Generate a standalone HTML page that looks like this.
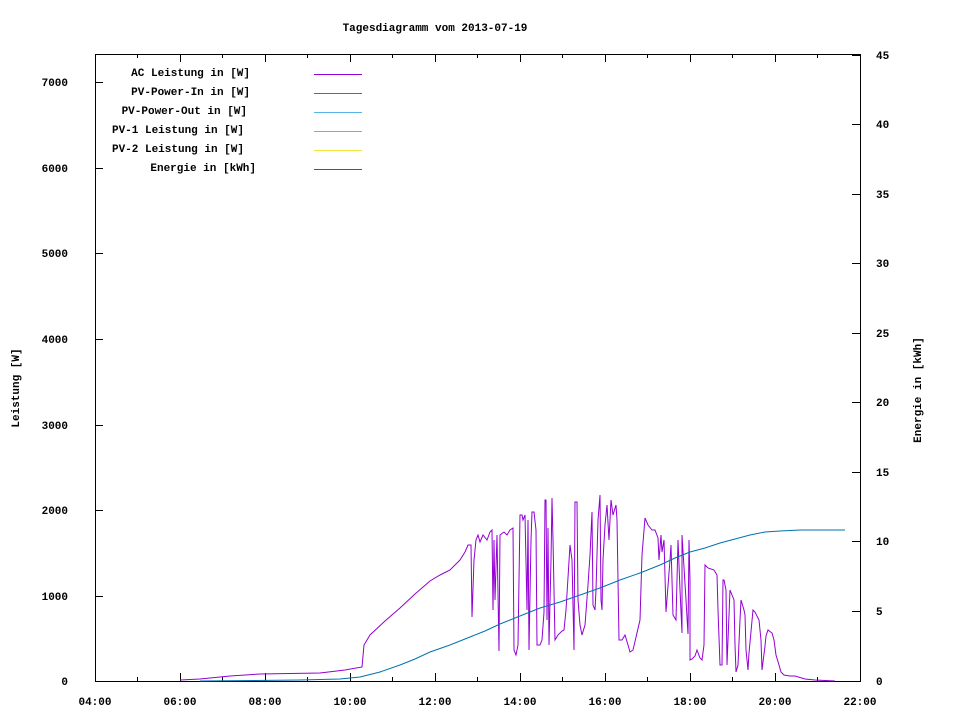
<!DOCTYPE html>
<html><head><meta charset="utf-8"><style>
html,body{margin:0;padding:0;background:#fff}
svg text{font-family:"Liberation Mono",monospace;font-size:11px;font-weight:bold;fill:#000}
</style></head><body>
<svg width="960" height="720" viewBox="0 0 960 720" xmlns="http://www.w3.org/2000/svg">
<rect width="960" height="720" fill="#fff"/>
<text x="435" y="31" text-anchor="middle">Tagesdiagramm vom 2013-07-19</text>
<rect x="95.5" y="54.5" width="765" height="627" fill="none" stroke="#000" stroke-width="1"/>
<g stroke="#000" stroke-width="1">
<!-- left ticks -->
<path d="M95 596.5h8M95 510.5h8M95 425.5h8M95 339.5h8M95 253.5h8M95 168.5h8M95 82.5h8"/>
<!-- right ticks -->
<path d="M860 611.5h-8M860 541.5h-8M860 472.5h-8M860 402.5h-8M860 333.5h-8M860 263.5h-8M860 194.5h-8M860 124.5h-8M860 55.5h-8"/>
<!-- x major ticks -->
<path d="M180.5 681v-8M265.5 681v-8M350.5 681v-8M435.5 681v-8M520.5 681v-8M605.5 681v-8M690.5 681v-8M775.5 681v-8"/>
<path d="M180.5 54v8M265.5 54v8M350.5 54v8M435.5 54v8M520.5 54v8M605.5 54v8M690.5 54v8M775.5 54v8"/>
<!-- minor -->
<path d="M137.5 681v-4M222.5 681v-4M307.5 681v-4M392.5 681v-4M477.5 681v-4M562.5 681v-4M647.5 681v-4M732.5 681v-4M817.5 681v-4"/>
<path d="M137.5 54v4M222.5 54v4M307.5 54v4M392.5 54v4M477.5 54v4M562.5 54v4M647.5 54v4M732.5 54v4M817.5 54v4"/>
</g>
<g text-anchor="end">
<text x="68" y="685">0</text><text x="68" y="600">1000</text><text x="68" y="514">2000</text>
<text x="68" y="429">3000</text><text x="68" y="343">4000</text><text x="68" y="257">5000</text>
<text x="68" y="172">6000</text><text x="68" y="86">7000</text>
</g>
<g text-anchor="start">
<text x="876" y="685">0</text><text x="876" y="615">5</text><text x="876" y="545">10</text>
<text x="876" y="476">15</text><text x="876" y="406">20</text><text x="876" y="337">25</text>
<text x="876" y="267">30</text><text x="876" y="198">35</text><text x="876" y="128">40</text><text x="876" y="59">45</text>
</g>
<g text-anchor="middle">
<text x="95" y="705">04:00</text><text x="180" y="705">06:00</text><text x="265" y="705">08:00</text>
<text x="350" y="705">10:00</text><text x="435" y="705">12:00</text><text x="520" y="705">14:00</text>
<text x="605" y="705">16:00</text><text x="690" y="705">18:00</text><text x="775" y="705">20:00</text><text x="860" y="705">22:00</text>
</g>
<text transform="translate(19,388) rotate(-90)" text-anchor="middle">Leistung [W]</text>
<text transform="translate(921,390) rotate(-90)" text-anchor="middle">Energie in [kWh]</text>
<!-- legend -->
<g text-anchor="end">
<text x="250" y="76">AC Leistung in [W]</text>
<text x="250" y="95">PV-Power-In in [W]</text>
<text x="247" y="114">PV-Power-Out in [W]</text>
<text x="244" y="133">PV-1 Leistung in [W]</text>
<text x="244" y="152">PV-2 Leistung in [W]</text>
<text x="256" y="171">Energie in [kWh]</text>
</g>
<g stroke-width="1">
<path d="M314 74.5h48" stroke="#9400d3"/>
<path d="M314 93.5h48" stroke="#009e73"/>
<path d="M314 112.5h48" stroke="#56b4e9"/>
<path d="M314 131.5h48" stroke="#e69f00"/>
<path d="M314 150.5h48" stroke="#f0e442"/>
<path d="M314 169.5h48" stroke="#0072b2"/>
</g>
<!-- AC power -->
<polyline fill="none" stroke="#9400d3" stroke-width="1" points="180,680 200,679 230,676 260,674 320,673 345,670 362,667 364,645 370,635 385,621 400,608 415,594 430,581 440,575 450,570 460,560 465,552 468,545 471,545 472,617 474,560 476,540 478,535 480,542 483,535 487,540 490,532 492,530 493,610 494,540 495,600 497,535 499,651 500,535 504,532 507,535 510,530 513,528 514,650 516,655 518,645 520,515 522,515 523,520 525,515 527,610 528,520 529,650 531,540 532,512 534,512 536,530 537,645 540,645 542,640 544,612 545,500 546,500 547,620 548,528 549,645 551,560 552,498 553,540 555,640 558,635 562,631 564,630 566,610 570,545 572,560 574,650 575,502 577,502 578,600 580,625 582,635 585,625 588,585 590,555 592,512 593,605 595,610 596,590 598,520 600,495 601,600 602,610 603,560 605,525 607,505 609,540 611,500 613,515 616,505 617,520 619,640 622,640 625,635 628,645 630,652 633,650 640,620 642,555 645,518 648,525 652,530 655,530 658,538 659,560 661,535 662,552 664,540 666,612 670,560 671,545 673,615 676,620 678,540 680,590 682,633 682,535 686,600 688,634 689,540 690,580 690,660 692,659 695,656 697,650 700,658 702,660 704,645 705,565 708,568 714,570 717,575 718,610 720,665 722,665 723,580 724,580 726,590 727,665 730,590 734,600 735,645 736,672 738,665 740,620 741,600 744,610 745,615 746,650 748,670 749,653 753,610 755,612 759,620 761,640 762,670 765,646 766,636 768,630 772,633 774,640 776,655 779,665 781,672 784,675 790,676 795,676 805,679 815,680 835,681"/>
<!-- Energie -->
<polyline fill="none" stroke="#0072b2" stroke-width="1" points="200,681 300,680 340,679 360,677 380,672 400,665 415,659 430,652 450,645 470,637 485,631 500,624 520,616 540,608 560,602 580,595 600,588 620,580 640,573 660,565 675,558 690,552 705,548 720,543 735,539 750,535 765,532 780,531 800,530 845,530"/>
</svg>
</body></html>
